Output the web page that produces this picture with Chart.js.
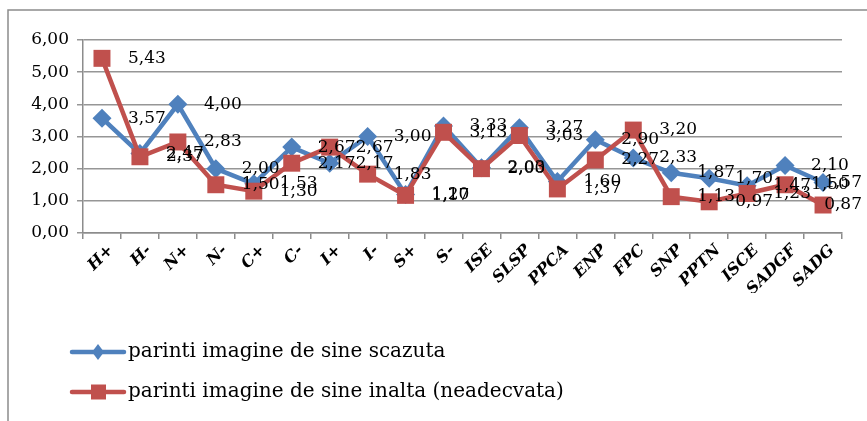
<!DOCTYPE html>
<html lang="ro">
<head>
  <meta charset="UTF-8">
  <title>Imagine de sine</title>
  <script src="https://cdn.jsdelivr.net/npm/chart.js"></script>
  <style>
    body { margin: 0; padding: 0; background: #fff; }
    canvas { display: block; }
  </style>
</head>
<body>
  <canvas id="grafic" width="867" height="421"></canvas>

  <script>
    // categorii si valori
    const categorii = ['H+', 'H-', 'N+', 'N-', 'C+', 'C-', 'I+', 'I-', 'S+', 'S-',
      'ISE', 'SLSP', 'PPCA', 'ENP', 'FPC', 'SNP', 'PPTN', 'ISCE', 'SADGF', 'SADG'];
    const scazuta = [3.57, 2.47, 4.00, 2.00, 1.53, 2.67, 2.17, 3.00, 1.20, 3.33,
      2.03, 3.27, 1.60, 2.90, 2.33, 1.87, 1.70, 1.47, 2.10, 1.57];
    const inalta = [5.43, 2.37, 2.83, 1.50, 1.30, 2.17, 2.67, 1.83, 1.17, 3.13,
      2.00, 3.03, 1.37, 2.27, 3.20, 1.13, 0.97, 1.23, 1.50, 0.87];
    const yTicks = [0, 1, 2, 3, 4, 5, 6];

    const serif = '"DejaVu Serif", serif';
    const fmt = v => v.toFixed(2).replace('.', ',');

    // etichete de date in dreapta punctelor, ca in Excel
    const eticheteDate = {
      id: 'eticheteDate',
      afterDatasetsDraw(chart) {
        const ctx = chart.ctx;
        ctx.save();
        ctx.font = '17px ' + serif;
        ctx.fillStyle = '#000';
        ctx.textBaseline = 'middle';
        ctx.textAlign = 'left';
        chart.data.datasets.forEach((ds, i) => {
          chart.getDatasetMeta(i).data.forEach((pt, j) => {
            const txt = fmt(ds.data[j]);
            let x = pt.x + 26;
            const w = ctx.measureText(txt).width;
            if (x + w > 862) x = 862 - w;
            ctx.fillText(txt, x, pt.y);
          });
        });
        ctx.restore();
      }
    };

    // chenar + legenda
    const chenar = {
      id: 'chenar',
      beforeDraw(chart) {
        const ctx = chart.ctx;
        ctx.save();
        ctx.fillStyle = '#fff';
        ctx.fillRect(0, 0, chart.width, chart.height);
        ctx.strokeStyle = '#8c8c8c';
        ctx.lineWidth = 1.5;
        ctx.strokeRect(8, 10, 900, 500);
        ctx.restore();
      },
      afterDraw(chart) {
        const ctx = chart.ctx;
        ctx.save();
        chart.data.datasets.forEach((ds, i) => {
          const y = 352 + i * 40;
          ctx.strokeStyle = ds.borderColor;
          ctx.lineWidth = 4.5;
          ctx.lineCap = 'round';
          ctx.beginPath();
          ctx.moveTo(72, y);
          ctx.lineTo(124, y);
          ctx.stroke();
          ctx.fillStyle = ds.backgroundColor;
          ctx.beginPath();
          if (ds.pointStyle === 'rectRot') {
            ctx.moveTo(98, y - 8);
            ctx.lineTo(104, y);
            ctx.lineTo(98, y + 8);
            ctx.lineTo(92, y);
          } else {
            ctx.rect(91, y - 7.5, 15, 15);
          }
          ctx.closePath();
          ctx.fill();
          ctx.fillStyle = '#000';
          ctx.font = '20px ' + serif;
          ctx.textBaseline = 'middle';
          ctx.fillText(ds.label, 128, y);
        });
        ctx.restore();
      }
    };

    new Chart(document.getElementById('grafic'), {
      type: 'line',
      data: {
        labels: categorii,
        datasets: [{
          label: 'parinti imagine de sine scazuta',
          data: scazuta,
          borderColor: '#4F81BD',
          backgroundColor: '#4F81BD',
          borderWidth: 4.5,
          pointStyle: 'rectRot',
          pointRadius: 9.5,
          pointBorderWidth: 0,
          tension: 0,
          order: 1
        }, {
          label: 'parinti imagine de sine inalta (neadecvata)',
          data: inalta,
          borderColor: '#C0504D',
          backgroundColor: '#C0504D',
          borderWidth: 4.5,
          pointStyle: 'rect',
          pointRadius: 12,
          pointBorderWidth: 0,
          tension: 0,
          order: 0
        }]
      },
      options: {
        responsive: false,
        animation: false,
        devicePixelRatio: 1,
        layout: { padding: { left: 0, top: 40, right: 25, bottom: 128 } },
        plugins: {
          legend: { display: false },
          tooltip: { enabled: false }
        },
        scales: {
          x: {
            offset: true,
            afterFit: s => { s.height = 60; },
            grid: {
              offset: true,
              drawOnChartArea: false,
              drawTicks: true,
              tickLength: 6,
              color: '#8c8c8c',
              lineWidth: 1.5
            },
            border: { color: '#8c8c8c', width: 1.5 },
            ticks: {
              minRotation: 45,
              maxRotation: 45,
              autoSkip: false,
              padding: 2,
              labelOffset: 9,
              color: '#000',
              font: { family: serif, size: 16, weight: 'bold', style: 'italic' }
            }
          },
          y: {
            min: 0,
            max: 6,
            afterFit: s => { s.width = 83; },
            afterBuildTicks: s => { s.ticks = yTicks.map(v => ({ value: v })); },
            grid: {
              color: '#969696',
              lineWidth: 1.5,
              tickLength: 6
            },
            border: { color: '#8c8c8c', width: 1.5 },
            ticks: {
              padding: 8,
              color: '#000',
              font: { family: serif, size: 17 },
              callback: v => fmt(v)
            }
          }
        }
      },
      plugins: [chenar, eticheteDate]
    });
  </script>
</body>
</html>
